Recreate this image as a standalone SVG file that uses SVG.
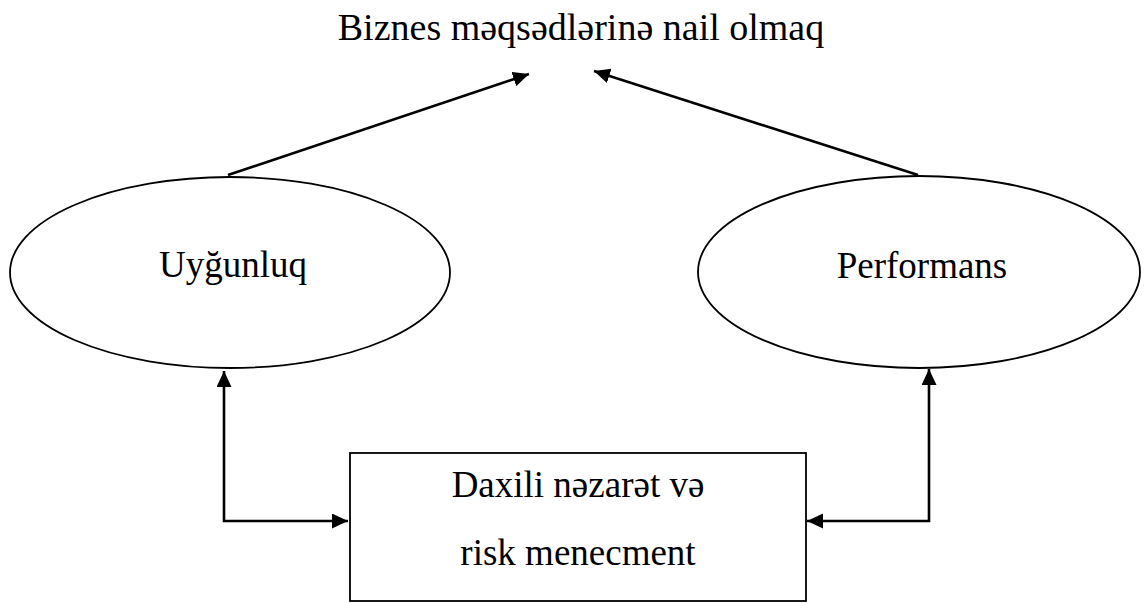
<svg xmlns="http://www.w3.org/2000/svg" width="1144" height="603" viewBox="0 0 1144 603">
<style>
text{font-family:"Liberation Serif","DejaVu Serif","Times New Roman",serif;font-size:37px;fill:#000;text-anchor:middle}
.node{fill:#fff;stroke:#000;stroke-width:1.8}
.conn{fill:none;stroke:#000;stroke-width:2.6}
</style>
<defs>
<marker id="ah" markerUnits="userSpaceOnUse" markerWidth="18" markerHeight="16" refX="16" refY="7.5" orient="auto-start-reverse">
<path d="M0,0 L16,7.5 L0,15 z" fill="#000"/>
</marker>
</defs>
<rect width="1144" height="603" fill="#fff"/>
<g id="title">
<text x="581" y="40" style="font-size:38px">Biznes məqsədlərinə nail olmaq</text>
</g>
<g id="uygunluq">
<ellipse class="node" cx="230" cy="272.5" rx="220" ry="95.5"/>
<text x="233" y="277">Uyğunluq</text>
</g>
<g id="performans">
<ellipse class="node" cx="919" cy="272" rx="221" ry="96"/>
<text x="922" y="278">Performans</text>
</g>
<g id="daxili">
<rect class="node" x="350" y="453" width="456" height="148" stroke-width="2.2"/>
<text x="578" y="497">Daxili nəzarət və</text>
<text x="578" y="565">risk menecment</text>
</g>
<g id="connectors">
<path class="conn" d="M228,175 L529,74" marker-end="url(#ah)"/>
<path class="conn" d="M918,175 L594,71" marker-end="url(#ah)"/>
<path class="conn" d="M224,371 L224,521 L348,521" marker-start="url(#ah)" marker-end="url(#ah)"/>
<path class="conn" d="M929,369 L929,521 L807,521" marker-start="url(#ah)" marker-end="url(#ah)"/>
</g>
</svg>
